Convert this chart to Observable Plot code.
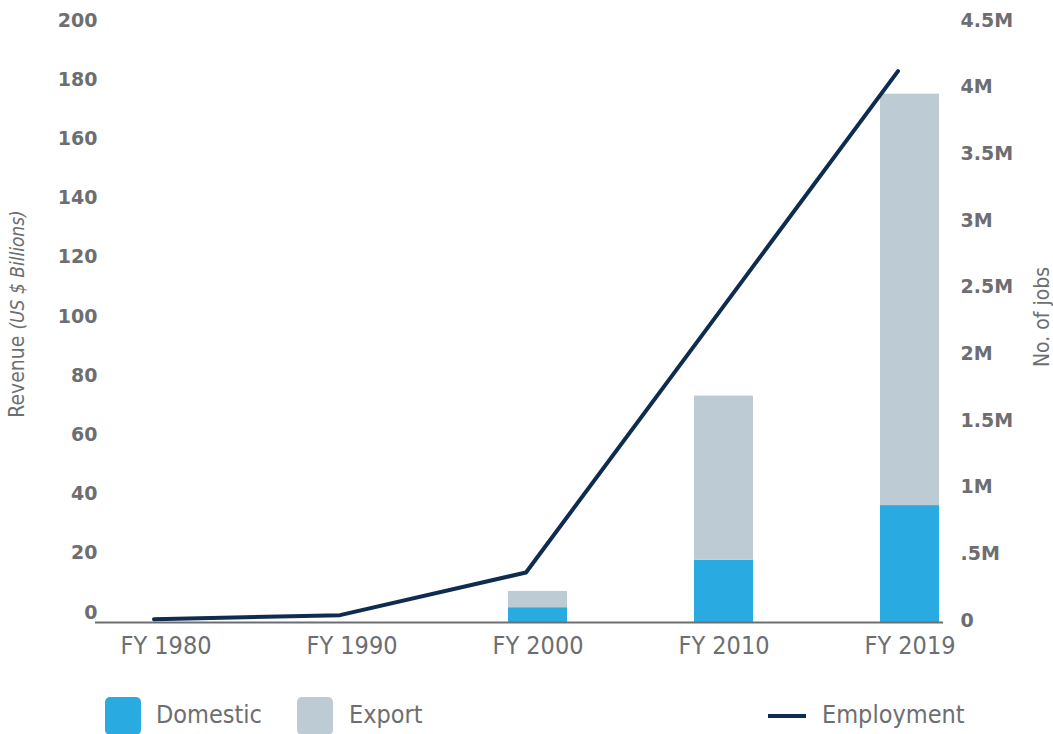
<!DOCTYPE html>
<html>
<head>
<meta charset="utf-8">
<script src="https://cdn.jsdelivr.net/npm/d3@7"></script>
<script src="https://cdn.jsdelivr.net/npm/@observablehq/plot@0.6"></script>
<style>
  body { margin: 0; background: #fff; }
  #wrap { position: relative; width: 1053px; height: 734px; overflow: hidden; }
  .leg { position: absolute; font-family: "Liberation Sans Narrow", "DejaVu Sans Condensed", "Liberation Sans", sans-serif; font-size: 25px; color: #6d6e71; }
  .sw { position: absolute; width: 36px; height: 38px; border-radius: 5px; }
</style>
</head>
<body>
<div id="wrap">
  <div id="chart"></div>
  <div class="sw" style="left:105px; top:697px; background:#29abe2"></div>
  <div class="leg" style="left:156px; top:700px">Domestic</div>
  <div class="sw" style="left:297px; top:697px; background:#bdccd4"></div>
  <div class="leg" style="left:349px; top:700px">Export</div>
  <div style="position:absolute; left:768px; top:714px; width:38px; height:4px; background:#0d2c4f"></div>
  <div class="leg" style="left:822px; top:700px">Employment</div>
</div>
<script>
// ---- data ----
const years = ["FY 1980", "FY 1990", "FY 2000", "FY 2010", "FY 2019"];
const domestic = [0, 0, 5, 21, 39.5];          // US $ Billions
const exportRev = [0, 0, 5.5, 55.5, 139];      // US $ Billions
const jobs = [0.01, 0.04, 0.36, 2.24, 4.12];   // millions
const revenueTicks = [0, 20, 40, 60, 80, 100, 120, 140, 160, 180, 200];
const jobTicks = [0, 0.5, 1, 1.5, 2, 2.5, 3, 3.5, 4, 4.5];
const jobTickLabels = ["0", ".5M", "1M", "1.5M", "2M", "2.5M", "3M", "3.5M", "4M", "4.5M"];

// ---- build tables ----
const bars = [];
years.forEach((y, i) => {
  bars.push({year: y, type: "Domestic", value: domestic[i]});
  bars.push({year: y, type: "Export", value: exportRev[i]});
});
const lineData = years.map((y, i) => ({year: y, jobs: jobs[i]}));

// secondary (jobs) axis mapped onto the revenue scale
const pxPerUnit = 2.96, pxPerM = 133.33, off = 2;
const toLeft = m => (off + pxPerM * m) / pxPerUnit;

const numFont = "'DejaVu Sans', sans-serif";
const narrow = "'Liberation Sans Narrow', 'DejaVu Sans Condensed', 'Liberation Sans', sans-serif";

const chart = Plot.plot({
  width: 1053,
  height: 670,
  marginLeft: 95,
  marginRight: 110,
  marginTop: 30,
  marginBottom: 48,
  style: {background: "#fff", color: "#6d6e71"},
  x: {type: "band", domain: years, range: [135, 939], paddingInner: 0.683, paddingOuter: 0},
  y: {domain: [0, 200]},
  color: {domain: ["Domestic", "Export"], range: ["#29abe2", "#bdccd4"]},
  marks: [
    Plot.barY(bars, {x: "year", y: "value", fill: "type"}),
    Plot.ruleY([0], {stroke: "#6d6e71", strokeWidth: 2}),
    Plot.line(lineData, {x: "year", y: d => toLeft(d.jobs), stroke: "#0d2c4f", strokeWidth: 4, dx: -12}),
    Plot.axisX({tickSize: 0, tickPadding: 14, fontSize: 25, fontFamily: narrow, fill: "#6d6e71", label: null}),
    Plot.axisY({ticks: revenueTicks, tickSize: 0, tickPadding: -2, dy: -10, fontSize: 19, fontWeight: "bold", fontFamily: numFont, fill: "#6d6e71", label: null}),
    Plot.axisY({anchor: "right", ticks: jobTicks.map(toLeft), tickFormat: (d) => jobTickLabels[jobTicks.findIndex(t => Math.abs(toLeft(t) - d) < 1e-6)], tickSize: 0, tickPadding: 17, fontSize: 19, fontWeight: "bold", fontFamily: numFont, fill: "#6d6e71", label: null})
  ]
});
document.getElementById("chart").appendChild(chart);

const svg = d3.select(chart);
const lt = svg.append("text")
  .attr("transform", "translate(18,314) rotate(-90)")
  .attr("text-anchor", "middle").attr("dominant-baseline", "middle")
  .attr("fill", "#6d6e71").style("font-family", narrow).style("font-size", "21px");
lt.append("tspan").text("Revenue ");
lt.append("tspan").style("font-style", "italic").style("font-size", "19px").text("(US $ Billions)");
svg.append("text")
  .attr("transform", "translate(1043,317) rotate(-90)")
  .attr("text-anchor", "middle").attr("dominant-baseline", "middle")
  .attr("fill", "#6d6e71").style("font-family", narrow).style("font-size", "21px")
  .text("No. of jobs");
</script>
</body>
</html>
